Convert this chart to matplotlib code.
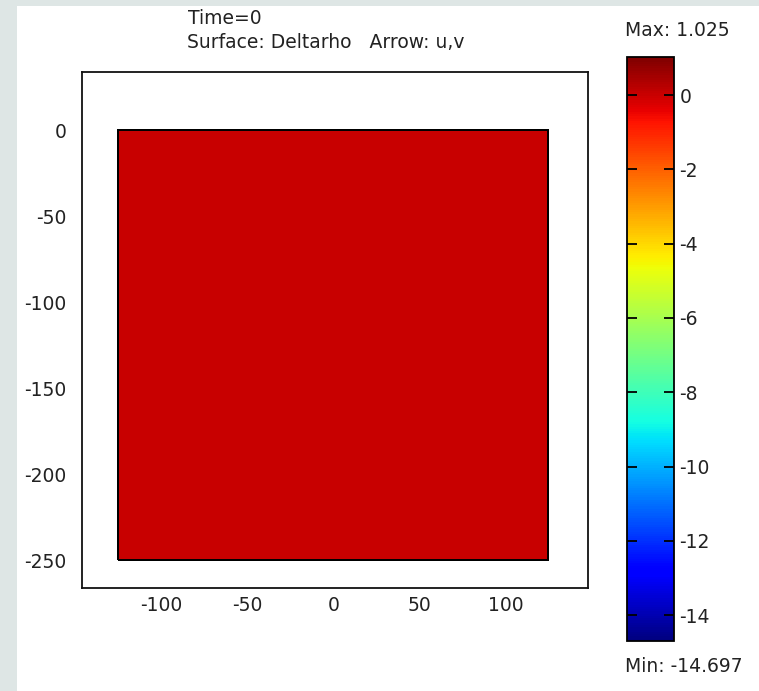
"""COMSOL-style surface plot: Deltarho at Time=0 with jet colour bar."""

import matplotlib
matplotlib.use("Agg")
import matplotlib.pyplot as plt  # noqa: E402
import numpy as np  # noqa: E402
from matplotlib.patches import Rectangle  # noqa: E402

# --- data ---
x_edges = [-125, 125]
y_edges = [-250, 0]
deltarho = [[0.0]]
v_min, v_max = -14.697, 1.025
x_ticks = [-100, -50, 0, 50, 100]
y_ticks = [0, -50, -100, -150, -200, -250]
cb_ticks = [0, -2, -4, -6, -8, -10, -12, -14]
x_lim = (-146, 148)
y_lim = (-266, 34)

plt.rcParams["font.family"] = ["DejaVu Sans"]
plt.rcParams["axes.unicode_minus"] = False
txt_color = "#222222"
fs = 13.5

fig = plt.figure(figsize=(7.59, 6.91), dpi=100)
fig.patch.set_facecolor("white")

# light window-background strips at the left and top edges
fig.patches.append(Rectangle((0, 0), 17 / 759, 1, transform=fig.transFigure,
                             facecolor="#dee6e5", edgecolor="none", zorder=0))
fig.patches.append(Rectangle((0, 1 - 6 / 691), 1, 6 / 691, transform=fig.transFigure,
                             facecolor="#dee6e5", edgecolor="none", zorder=0))

ax = fig.add_axes([82 / 759, 1 - 588 / 691, 506 / 759, 516 / 691])
mesh = ax.pcolormesh(x_edges, y_edges, np.array(deltarho), cmap="jet",
                     vmin=v_min, vmax=v_max, edgecolors="black", linewidth=1.2)
ax.set_xlim(*x_lim)
ax.set_ylim(*y_lim)
ax.set_xticks(x_ticks)
ax.set_yticks(y_ticks)
ax.tick_params(length=0, labelsize=fs, labelcolor=txt_color)
ax.tick_params(axis="x", pad=6)
ax.tick_params(axis="y", pad=11)
for s in ax.spines.values():
    s.set_linewidth(1.3)
    s.set_color("#111111")

fig.text(188 / 759, 1 - 19 / 691, "Time=0", fontsize=fs, color=txt_color,
         va="center", ha="left")
fig.text(187 / 759, 1 - 42 / 691, "Surface: Deltarho   Arrow: u,v", fontsize=fs,
         color=txt_color, va="center", ha="left")

cax = fig.add_axes([627 / 759, 1 - 641 / 691, 47 / 759, 584 / 691])
cb = fig.colorbar(mesh, cax=cax)
cb.set_ticks(cb_ticks)
cb.outline.set_linewidth(1.3)
cax.tick_params(direction="in", left=True, right=True, length=7, width=1.3,
                labelsize=fs, labelcolor=txt_color, pad=4)

fig.text(625 / 759, 1 - 30 / 691, "Max: 1.025", fontsize=fs, color=txt_color,
         va="center", ha="left")
fig.text(625 / 759, 1 - 666 / 691, "Min: -14.697", fontsize=fs, color=txt_color,
         va="center", ha="left")

fig.savefig("out.png", dpi=100)
plt.close(fig)
